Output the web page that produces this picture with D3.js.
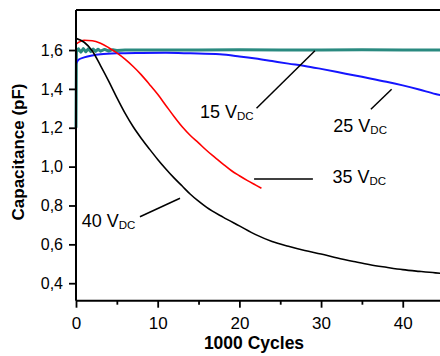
<!DOCTYPE html>
<html><head><meta charset="utf-8">
<script src="https://cdn.jsdelivr.net/npm/d3@7"></script>
<style>body{margin:0;background:#fff}svg{display:block}text{font-family:"Liberation Sans",Arial,sans-serif}</style>
</head><body><svg id="c" width="440" height="356"></svg>
<script>
// ---- data ----
const xTicks = [0, 10, 20, 30, 40];
const xMinor = [5, 15, 25, 35, 45];
const yTicks = [0.4, 0.6, 0.8, 1.0, 1.2, 1.4, 1.6];

const cycles15 = [0, 0.05, 0.3, 0.6, 0.9, 1.2, 1.5, 1.8, 2.1, 2.4, 2.7, 3.0, 3.5, 4.0, 4.5, 5.0, 6, 8, 10, 15, 20, 25, 30, 35, 40, 45];
const cap15    = [1.2, 1.59, 1.606, 1.589, 1.607, 1.591, 1.606, 1.592, 1.605, 1.593, 1.604, 1.594, 1.603, 1.595, 1.602, 1.598, 1.6, 1.6, 1.6, 1.6, 1.601, 1.6, 1.6, 1.601, 1.6, 1.6];

const cycles25 = [0, 0.3, 1, 2, 3, 5, 8, 11, 14, 17.6, 20, 22, 24, 26, 28, 30, 32, 34, 36, 38, 40, 42, 44, 45];
const cap25    = [1.53, 1.55, 1.562, 1.572, 1.578, 1.583, 1.585, 1.586, 1.583, 1.578, 1.567, 1.556, 1.543, 1.53, 1.518, 1.503, 1.487, 1.47, 1.454, 1.437, 1.418, 1.397, 1.374, 1.365];

const cycles35 = [0, 1, 2, 3, 4, 5, 6, 7, 8, 9, 10, 11, 12, 13, 14, 15, 16, 17, 18, 19, 20, 21, 22, 22.7];
const cap35    = [1.63, 1.65, 1.648, 1.635, 1.612, 1.585, 1.553, 1.515, 1.472, 1.423, 1.372, 1.315, 1.258, 1.205, 1.16, 1.122, 1.083, 1.048, 1.013, 0.98, 0.953, 0.928, 0.905, 0.889];

const cycles40 = [0, 1, 2, 3, 4, 5, 6, 7, 8, 9, 10, 11, 12, 13, 14, 15, 16, 18, 20, 22, 24, 26, 28, 30, 32, 34, 36, 38, 40, 42, 44, 45];
const cap40    = [1.66, 1.64, 1.595, 1.52, 1.44, 1.355, 1.275, 1.205, 1.145, 1.09, 1.037, 0.988, 0.942, 0.9, 0.858, 0.822, 0.79, 0.74, 0.695, 0.65, 0.615, 0.59, 0.568, 0.55, 0.53, 0.512, 0.495, 0.482, 0.47, 0.461, 0.453, 0.45];

const seriesNames  = ["15", "25", "35", "40"];
const seriesColors = ["#2a8a80", "#1515ff", "#ff0000", "#000000"];

// annotations (data units): text pos, leader start, leader end
const labelText = ["15 V", "25 V", "35 V", "40 V"];
const labelX = [15.18, 31.5, 31.4, 0.7];
const labelY = [1.249, 1.18, 0.917, 0.688];
const leaderX1 = [22.1, 36.1, 21.8, 7.83];
const leaderY1 = [1.30, 1.295, 0.936, 0.742];
const leaderX2 = [29.25, 38.64, 29.0, 12.73];
const leaderY2 = [1.596, 1.398, 0.936, 0.837];

// ---- chart ----
const svg = d3.select("#c");
const x = d3.scaleLinear().domain([0, 45]).range([76, 443.6]);
const y = d3.scaleLinear().domain([0.31, 1.806]).range([300.7, 10]);

const fmt = d => d3.format(".1f")(d).replace(".", ",");

// data lines
const all = [
  {xs: cycles15, ys: cap15, w: 3, c: d3.curveLinear},
  {xs: cycles25, ys: cap25, w: 2, c: d3.curveMonotoneX},
  {xs: cycles35, ys: cap35, w: 1.6, c: d3.curveMonotoneX},
  {xs: cycles40, ys: cap40, w: 1.6, c: d3.curveMonotoneX}
];
all.forEach((s, i) => {
  const line = d3.line().x(d => x(d[0])).y(d => y(d[1])).curve(s.c);
  svg.append("path")
    .attr("d", line(s.xs.map((v, k) => [v, s.ys[k]])))
    .attr("fill", "none").attr("stroke", seriesColors[i])
    .attr("stroke-width", s.w).attr("stroke-linejoin", "round");
});

// axes
const yAxis = d3.axisLeft(y).tickValues(yTicks).tickFormat(fmt).tickSize(7).tickPadding(6);
const gy = svg.append("g").attr("transform", `translate(${x(0)},0)`).call(yAxis);
gy.select(".domain").remove();
gy.selectAll(".tick line").attr("stroke-width", 1.8);
gy.selectAll("text").attr("font-size", 16).attr("fill", "#000");

const xAxis = d3.axisBottom(x).tickValues(xTicks).tickFormat(d3.format("d")).tickSize(7).tickPadding(9);
const gx = svg.append("g").attr("transform", `translate(0,${y(0.31)})`).call(xAxis);
gx.select(".domain").remove();
gx.selectAll(".tick line").attr("stroke-width", 1.8);
gx.selectAll("text").attr("font-size", 17).attr("fill", "#000");

const xAxisMinor = d3.axisBottom(x).tickValues(xMinor).tickFormat("").tickSize(4);
const gxm = svg.append("g").attr("transform", `translate(0,${y(0.31)})`).call(xAxisMinor);
gxm.select(".domain").remove();
gxm.selectAll(".tick line").attr("stroke-width", 1.8);

// frame lines
svg.append("line").attr("x1", x(0)).attr("x2", x(45)).attr("y1", y(0.31)).attr("y2", y(0.31)).attr("stroke", "#000").attr("stroke-width", 2);
svg.append("line").attr("x1", x(0)).attr("x2", x(0)).attr("y1", y(1.806)).attr("y2", y(0.31)).attr("stroke", "#000").attr("stroke-width", 2);
svg.append("line").attr("x1", x(0)).attr("x2", x(45)).attr("y1", y(1.806)).attr("y2", y(1.806)).attr("stroke", "#000").attr("stroke-width", 2);

// annotations
labelText.forEach((t, i) => {
  svg.append("line")
    .attr("x1", x(leaderX1[i])).attr("y1", y(leaderY1[i]))
    .attr("x2", x(leaderX2[i])).attr("y2", y(leaderY2[i]))
    .attr("stroke", "#000").attr("stroke-width", 1.5);
  const tx = svg.append("text").attr("x", x(labelX[i])).attr("y", y(labelY[i]))
    .attr("font-size", 18).attr("fill", "#000");
  tx.append("tspan").text(t);
  tx.append("tspan").attr("font-size", 11.5).attr("dy", 2).text("DC");
});

// axis titles
svg.append("text").attr("x", 254).attr("y", 349)
  .attr("text-anchor", "middle").attr("font-size", 17.5).attr("font-weight", "bold")
  .text("1000 Cycles");
svg.append("text").attr("transform", `translate(24,152) rotate(-90)`)
  .attr("text-anchor", "middle").attr("font-size", 17).attr("font-weight", "bold")
  .text("Capacitance (pF)");
</script></body></html>
